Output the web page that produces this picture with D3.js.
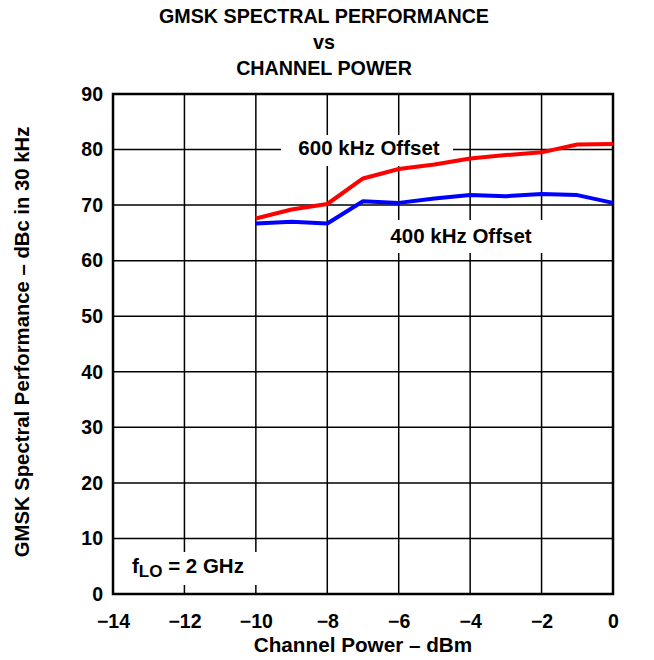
<!DOCTYPE html>
<html>
<head>
<meta charset="utf-8">
<script src="https://cdn.jsdelivr.net/npm/d3@7"></script>
<style>
  html, body { margin: 0; padding: 0; background: #fff; }
  svg text { font-family: "Liberation Sans", Arial, Helvetica, sans-serif; font-weight: bold; fill: #000; }
</style>
</head>
<body>
<svg id="chart" width="654" height="660"></svg>
<script>
// ---- data ----
const channelPower = [-10, -9, -8, -7, -6, -5, -4, -3, -2, -1, 0];
const offset600 = [67.6, 69.2, 70.2, 74.8, 76.5, 77.3, 78.4, 79.0, 79.5, 80.9, 81.0];
const offset400 = [66.7, 67.0, 66.7, 70.7, 70.4, 71.2, 71.8, 71.6, 72.0, 71.8, 70.4];
const xTicks = [-14, -12, -10, -8, -6, -4, -2, 0];
const yTicks = [0, 10, 20, 30, 40, 50, 60, 70, 80, 90];
const titleLines = ["GMSK SPECTRAL PERFORMANCE", "vs", "CHANNEL POWER"];
const xLabel = "Channel Power \u2013 dBm";
const yLabel = "GMSK Spectral Performance \u2013 dBc in 30 kHz";

// ---- layout ----
const m = { left: 113, top: 94, width: 500, height: 500 };
const svg = d3.select("#chart");
const x = d3.scaleLinear().domain([-14, 0]).range([m.left, m.left + m.width]);
const y = d3.scaleLinear().domain([0, 90]).range([m.top + m.height, m.top]);
const fmt = d => d < 0 ? "\u2212" + Math.abs(d) : String(d);

// grid
const grid = svg.append("g").attr("stroke", "#000").attr("stroke-width", 1.5);
grid.selectAll("line.v").data(xTicks).join("line")
  .attr("x1", d => x(d)).attr("x2", d => x(d))
  .attr("y1", m.top).attr("y2", m.top + m.height);
grid.selectAll("line.h").data(yTicks).join("line")
  .attr("y1", d => y(d)).attr("y2", d => y(d))
  .attr("x1", m.left).attr("x2", m.left + m.width);

// axes (labels only)
const xAxis = svg.append("g").attr("transform", `translate(0,${m.top + m.height})`)
  .call(d3.axisBottom(x).tickValues(xTicks).tickFormat(fmt).tickSize(0).tickPadding(20));
xAxis.select(".domain").remove();
xAxis.selectAll("text").attr("font-size", 19.5).attr("font-family", null);
const yAxis = svg.append("g").attr("transform", `translate(${m.left},0)`)
  .call(d3.axisLeft(y).tickValues(yTicks).tickFormat(fmt).tickSize(0).tickPadding(10));
yAxis.select(".domain").remove();
yAxis.selectAll("text").attr("font-size", 19.5).attr("font-family", null);

// annotation boxes (white background breaking the grid)
function labelBox(x0, y0, x1, y1) {
  svg.append("rect").attr("x", x0).attr("y", y0).attr("width", x1 - x0).attr("height", y1 - y0).attr("fill", "#fff");
}
labelBox(281, 135, 453, 166);
labelBox(378, 220, 552, 253);
labelBox(124, 552, 259, 585);

// frame
svg.append("rect").attr("x", m.left).attr("y", m.top).attr("width", m.width).attr("height", m.height)
  .attr("fill", "none").attr("stroke", "#000").attr("stroke-width", 2.5);

// lines
const line = d3.line().x((d, i) => x(channelPower[i])).y(d => y(d));
svg.append("path").datum(offset400).attr("d", line)
  .attr("fill", "none").attr("stroke", "#0000ff").attr("stroke-width", 4).attr("stroke-linejoin", "round");
svg.append("path").datum(offset600).attr("d", line)
  .attr("fill", "none").attr("stroke", "#ff0000").attr("stroke-width", 4).attr("stroke-linejoin", "round");

// annotations
svg.append("text").attr("x", 369).attr("y", 155).attr("text-anchor", "middle").attr("font-size", 20.5).text("600 kHz Offset");
svg.append("text").attr("x", 461).attr("y", 243).attr("text-anchor", "middle").attr("font-size", 20.5).text("400 kHz Offset");
const flo = svg.append("text").attr("x", 132).attr("y", 573).attr("font-size", 20.5);
flo.append("tspan").text("f");
flo.append("tspan").attr("dy", 4).attr("font-size", 17).text("LO");
flo.append("tspan").attr("dy", -4).text(" = 2 GHz");

// titles
svg.append("g").selectAll("text").data(titleLines).join("text")
  .attr("x", 324).attr("y", (d, i) => 23 + i * 26).attr("text-anchor", "middle")
  .attr("font-size", 19.7).text(d => d);
svg.append("text").attr("x", 363).attr("y", 652).attr("text-anchor", "middle").attr("font-size", 20.7).text(xLabel);
svg.append("text").attr("transform", "translate(29,342) rotate(-90)").attr("text-anchor", "middle")
  .attr("font-size", 20.3).text(yLabel);
</script>
</body>
</html>
